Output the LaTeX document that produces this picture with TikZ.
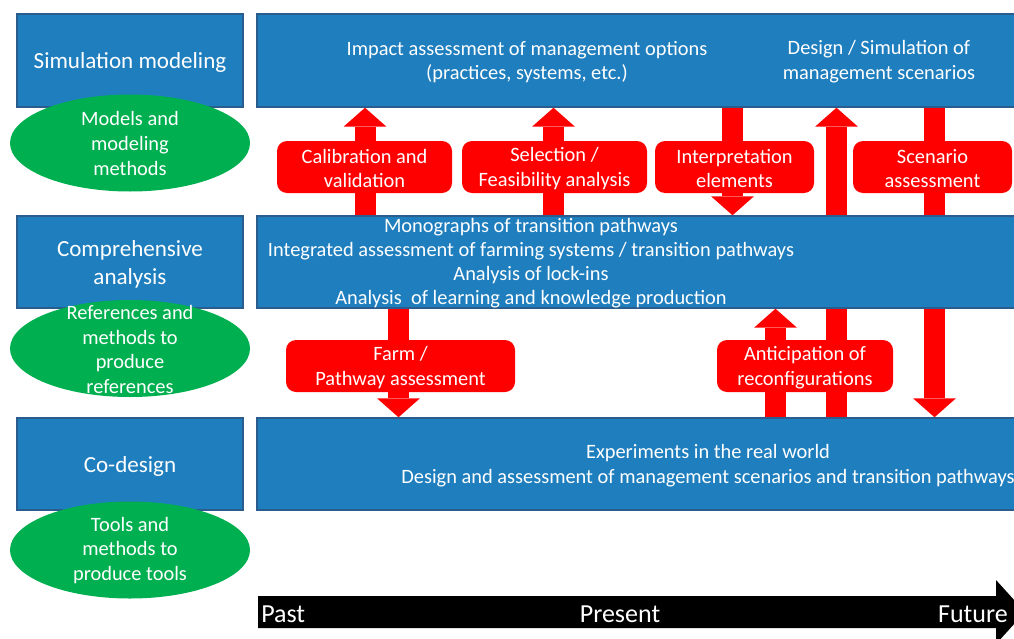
\documentclass[tikz,border=0pt]{standalone}
\usepackage{fontspec}
\setmainfont{Carlito}
\usetikzlibrary{arrows.meta,shapes.geometric}
\definecolor{boxblue}{RGB}{31,126,190}
\definecolor{boxedge}{RGB}{42,92,142}
\definecolor{ovalgreen}{RGB}{0,176,80}
\definecolor{arrred}{RGB}{255,0,0}
\tikzset{
  bluebox/.style={draw=boxedge, line width=1.1pt, fill=boxblue, inner sep=0pt},
  leftbox/.style={bluebox, minimum width=169.5pt, minimum height=69.75pt},
  lefttext/.style={text=white, align=center, inner sep=0pt, font=\fontsize{17.3}{21}\selectfont},
  rightbox/.style={bluebox, minimum width=579.75pt, minimum height=69.75pt},
  boxtext/.style={text=white, align=center, inner sep=0pt, font=\fontsize{15.3}{18.6}\selectfont},
  oval/.style={ellipse, fill=ovalgreen, inner sep=0pt, minimum width=180pt, minimum height=72.75pt},
  ovaltext/.style={text=white, align=center, inner sep=0pt, font=\fontsize{15.3}{18.4}\selectfont},
  redbox/.style={fill=arrred, rounded corners=7.5pt, minimum height=39pt, inner sep=0pt},
  redtext/.style={text=white, align=center, inner sep=0pt, font=\fontsize{15.3}{18.6}\selectfont},
  bigarrow/.style={draw=arrred, line width=15.75pt, -{Triangle[width=32.25pt,length=14.25pt,line width=0pt,fill=arrred]}},
  tltext/.style={text=white, inner sep=0pt, font=\fontsize{19.5}{23}\selectfont}
}
\begin{document}
\begin{tikzpicture}[x=0.75pt,y=-0.75pt]
\useasboundingbox (0,0) rectangle (1014,639);
\clip (0,0) rectangle (1014,639);
\path (643.5,60.5) coordinate (simc) (643.5,262) coordinate (midc) (643.5,464) coordinate (codc);
\node[rightbox, draw=none, fill=none] (simR) at (simc) {};
\node[rightbox, draw=none, fill=none, minimum height=69pt] (midR) at (midc) {};
\node[rightbox, draw=none, fill=none, minimum height=69pt] (codR) at (codc) {};
% red arrows (behind boxes)
\draw[bigarrow] (365,0 |- midR.north) -- (365,0 |- simR.south);
\draw[bigarrow] (553.5,0 |- midR.north) -- (553.5,0 |- simR.south);
\draw[bigarrow] (732.5,0 |- simR.south) -- (732.5,0 |- midR.north);
\draw[bigarrow] (836.5,0 |- codR.north) -- (836.5,0 |- simR.south);
\draw[bigarrow] (934.5,0 |- simR.south) -- (934.5,0 |- codR.north);
\draw[bigarrow] (398.5,0 |- midR.south) -- (398.5,0 |- codR.north);
\draw[bigarrow] (775.5,0 |- codR.north) -- (775.5,0 |- midR.south);
% visible blue boxes
\node[rightbox] (simB) at (simc) {};
\node[rightbox, minimum height=69pt] (midB) at (midc) {};
\node[rightbox, minimum height=69pt] (codB) at (codc) {};
\node[leftbox] (sim) at (130,60.5) {};
\node[leftbox, minimum height=69pt] (comp) at (130,262) {};
\node[leftbox, minimum height=69pt] (cod) at (130,464) {};
\node[lefttext] (simt) at (130,62.5) {Simulation modeling};
\node[lefttext] (compt) at (130,264.5) {Comprehensive\\analysis};
\node[lefttext] (codt) at (130,466.5) {Co-design};
% green ellipses
\node[oval] (e1) at (130,143) {};
\node[ovaltext] (e1t) at (130,143.5) {Models and\\modeling\\methods};
\node[oval] (e2) at (130,348.5) {};
\node[ovaltext] (e2t) at (130,349.5) {References and\\methods to\\produce\\references};
\node[oval] (e3) at (130,550) {};
\node[ovaltext] (e3t) at (130,550.5) {Tools and\\methods to\\produce tools};
% texts in right boxes
\node[boxtext] (t1) at (527,62) {Impact assessment of management options\\(practices, systems, etc.)};
\node[boxtext] (t2) at (879,62) {Design / Simulation of\\management scenarios};
\node[boxtext, font=\fontsize{15.3}{18}\selectfont] (t3) at (531,263.5) {Monographs of transition pathways\\Integrated assessment of farming systems / transition pathways\\Analysis of lock-ins\\Analysis~ of learning and knowledge production};
\node[boxtext] (t4) at (708,466) {Experiments in the real world\\Design and assessment of management scenarios and transition pathways};
% red label boxes
\node[redbox, minimum width=131.25pt] (cal) at (364.5,167) {};
\node[redbox, minimum width=138.75pt] (sel) at (554.5,167) {};
\node[redbox, minimum width=119.25pt] (int) at (734.5,167) {};
\node[redbox, minimum width=119.25pt] (scen) at (932.5,167) {};
\node[redbox, minimum width=171.75pt] (farm) at (400.5,366) {};
\node[redbox, minimum width=132pt] (anti) at (805,366) {};
\node[redtext] (calt) at (364.5,168.5) {Calibration and\\validation};
\node[redtext] (selt) at (554.5,168.5) {Selection /\\Feasibility analysis};
\node[redtext] (intt) at (734.5,168.5) {Interpretation\\elements};
\node[redtext] (scent) at (932.5,168.5) {Scenario\\assessment};
\node[redtext] (farmt) at (400.5,367.5) {Farm /\\Pathway assessment};
\node[redtext] (antit) at (805,367.5) {Anticipation of\\reconfigurations};
% timeline
\fill[black] (258,596) -- (996,596) -- (996,580) -- (1025,612) -- (996,644) -- (996,628) -- (258,628) -- cycle;
\node[tltext, anchor=base west] (past) at (261,622) {Past};
\node[tltext, anchor=base] (present) at (620,622) {Present};
\node[tltext, anchor=base east] (future) at (1008,622) {Future};
\end{tikzpicture}
\end{document}
